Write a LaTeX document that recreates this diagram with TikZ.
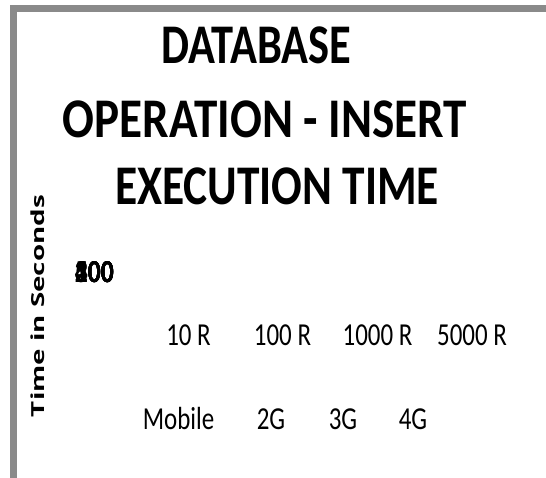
\documentclass[tikz,border=0pt]{standalone}
\usepackage{fontspec}
\usepackage{graphicx}
\setmainfont{Carlito}
\newfontfamily\axisfont{Open Sans}
\definecolor{frame}{HTML}{8A8A8A}

% condensed text: width scaled, height kept
\newcommand{\cond}[2]{\scalebox{#1}[1]{#2}}

\tikzset{
  titleline/.style={inner sep=0pt, anchor=base, font=\fontsize{56}{56}\selectfont\bfseries},
  catlabel/.style={inner sep=0pt, anchor=base, font=\fontsize{32}{32}\selectfont},
  ticklabel/.style={inner sep=0pt, anchor=base east, font=\fontsize{32}{32}\selectfont\bfseries},
  axistitle/.style={inner sep=0pt, anchor=base, rotate=90, font=\fontsize{18}{18}\selectfont\axisfont\bfseries},
}

\begin{document}
\begin{tikzpicture}[x=1pt, y=-1pt]
  \useasboundingbox (0,0) rectangle (546,478);
  \fill[white] (0,0) rectangle (546,478);

  % chart frame (top and left edges)
  \draw[frame, line width=7pt] (546,9) -- (13,9) -- (13,478);

  % chart title
  \node[titleline] (t1) at (256.5,64) {\resizebox{190pt}{\height}{DATABASE}};
  \node[titleline] (t2) at (265,138) {\resizebox{404pt}{\height}{OPERATION - INSERT}};
  \node[titleline] (t3) at (277,205) {\resizebox{324pt}{\height}{EXECUTION TIME}};

  % vertical axis title
  \node[axistitle] (yt) at (44,306) {\resizebox{222pt}{\height}{Time in Seconds}};

  % vertical axis tick labels, all collapsed onto one spot
  \foreach \v/\n in {0/a,100/b,200/c,300/d,400/e,500/f}
    \node[ticklabel] (tick\n) at (114,283) {\cond{0.8}{\v}};

  % series labels
  \node[catlabel] (r10)   at (188.5,345) {\cond{0.78}{10 R}};
  \node[catlabel] (r100)  at (282.5,345) {\cond{0.78}{100 R}};
  \node[catlabel] (r1000) at (377.5,345) {\cond{0.78}{1000 R}};
  \node[catlabel] (r5000) at (472,345)   {\cond{0.78}{5000 R}};

  % network category labels
  \node[catlabel] (mob) at (178.5,429) {\cond{0.78}{Mobile}};
  \node[catlabel] (g2)  at (271,429)   {\cond{0.78}{2G}};
  \node[catlabel] (g3)  at (343,429)   {\cond{0.78}{3G}};
  \node[catlabel] (g4)  at (413,429)   {\cond{0.78}{4G}};
\end{tikzpicture}
\end{document}
